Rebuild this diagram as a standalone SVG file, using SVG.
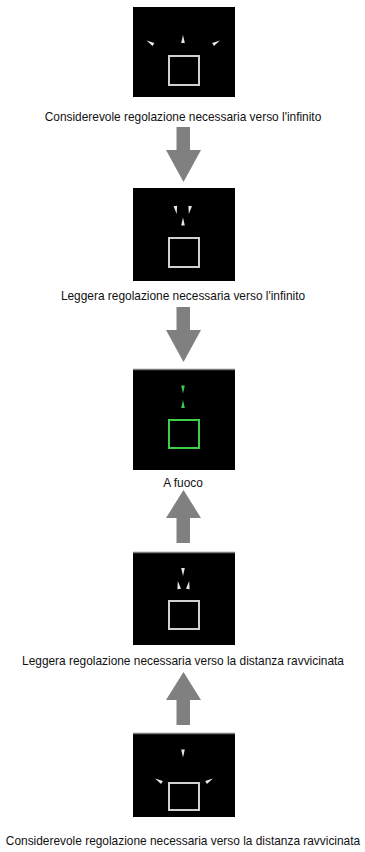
<svg xmlns="http://www.w3.org/2000/svg" width="365" height="852" viewBox="0 0 365 852">
<style>
.panel{fill:#000}
.topline{stroke:#7a7a7a;stroke-width:1.5}
.sq{fill:none;stroke:#d0d0d0;stroke-width:2}
.sqg{fill:none;stroke:#3ccf4a;stroke-width:2}
.tk{fill:#e8e8e8}
.tkg{fill:#3ccf4a}
.arrow{fill:#808080}
.lbl{font-family:"Liberation Sans",Arial,sans-serif;font-size:11.9px;fill:#111;text-anchor:middle}
</style>
<defs>
<path id="tick" d="M0,-4 L1.8,4 L-1.8,4 Z"/>
</defs>
<rect width="365" height="852" fill="#fff"/>
<g id="connectors">
<path class="arrow" d="M176.5,127 H190 V150 H201 L183.5,182 L166,150 H176.5 Z"/>
<path class="arrow" d="M176.5,307 H190 V330 H201 L183.5,362 L166,330 H176.5 Z"/>
<path class="arrow" d="M176.5,543 H190 V518 H201 L183.5,490 L166,518 H176.5 Z"/>
<path class="arrow" d="M176.5,725 H190 V700 H201 L183.5,672 L166,700 H176.5 Z"/>
</g>
<g id="node1">
<rect class="panel" x="133" y="7" width="102" height="90"/>
<use href="#tick" class="tk" transform="translate(183,39)"/>
<use href="#tick" class="tk" transform="translate(150,42.5) rotate(-60)"/>
<use href="#tick" class="tk" transform="translate(216.5,42.5) rotate(60)"/>
<rect class="sq" x="169" y="56" width="30" height="29"/>
<text class="lbl" x="183" y="121">Considerevole regolazione necessaria verso l'infinito</text>
</g>
<g id="node2">
<rect class="panel" x="133" y="188" width="102" height="93"/>
<use href="#tick" class="tk" transform="translate(176,210) rotate(170)"/>
<use href="#tick" class="tk" transform="translate(189.5,210) rotate(190)"/>
<use href="#tick" class="tk" transform="translate(183,221.5)"/>
<rect class="sq" x="169" y="238" width="30" height="29"/>
<text class="lbl" x="183" y="300">Leggera regolazione necessaria verso l'infinito</text>
</g>
<g id="node3">
<rect class="panel" x="133" y="369" width="102" height="101"/>
<line class="topline" x1="133" y1="369.5" x2="235" y2="369.5"/>
<use href="#tick" class="tkg" transform="translate(183,389.5) rotate(180)"/>
<use href="#tick" class="tkg" transform="translate(183,404)"/>
<rect class="sqg" x="169" y="420" width="30" height="28"/>
<text class="lbl" x="183" y="487">A fuoco</text>
</g>
<g id="node4">
<rect class="panel" x="133" y="552" width="102" height="93"/>
<line class="topline" x1="133" y1="552.5" x2="235" y2="552.5"/>
<use href="#tick" class="tk" transform="translate(183,572) rotate(180)"/>
<use href="#tick" class="tk" transform="translate(178.5,585) rotate(-10)"/>
<use href="#tick" class="tk" transform="translate(188.5,585) rotate(10)"/>
<rect class="sq" x="169" y="601" width="30" height="28"/>
<text class="lbl" x="183" y="665">Leggera regolazione necessaria verso la distanza ravvicinata</text>
</g>
<g id="node5">
<rect class="panel" x="133" y="733" width="102" height="84"/>
<line class="topline" x1="133" y1="733.5" x2="235" y2="733.5"/>
<use href="#tick" class="tk" transform="translate(183,753.5) rotate(180)"/>
<use href="#tick" class="tk" transform="translate(158.5,780.5) rotate(-60)"/>
<use href="#tick" class="tk" transform="translate(209.5,780.5) rotate(60)"/>
<rect class="sq" x="169" y="783" width="30" height="27"/>
<text class="lbl" x="183" y="845">Considerevole regolazione necessaria verso la distanza ravvicinata</text>
</g>
</svg>
